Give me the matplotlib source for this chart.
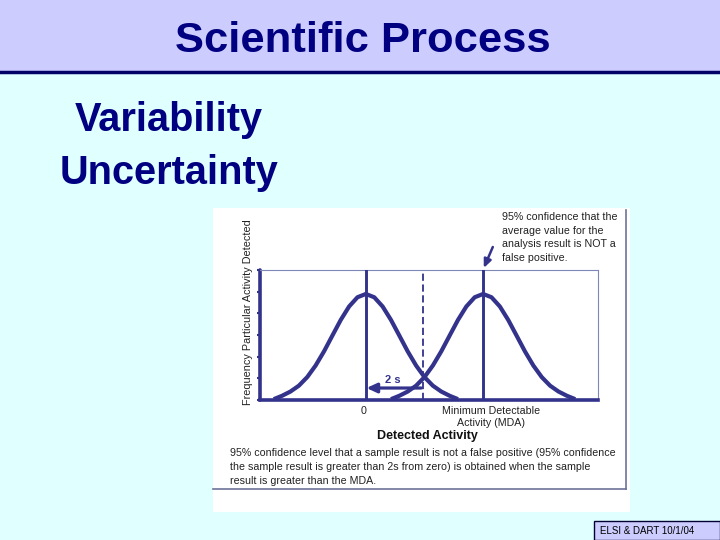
import matplotlib
matplotlib.use("Agg")
import matplotlib.pyplot as plt
from matplotlib.patches import Rectangle
from matplotlib.lines import Line2D

plt.rcParams['font.family'] = ['Liberation Sans', 'DejaVu Sans']

# ---- data (x in units of s, y relative to peak) ----
profile_offsets = [-2.75, -2.5, -2.25, -2.0, -1.75, -1.5, -1.25, -1.0, -0.75, -0.5, -0.25,
                   0.0, 0.25, 0.5, 0.75, 1.0, 1.25, 1.5, 1.75, 2.0, 2.25, 2.5, 2.75]
profile_heights = [0.008, 0.040, 0.080, 0.135, 0.216, 0.325, 0.458, 0.607, 0.755, 0.882, 0.969,
                   1.000, 0.969, 0.882, 0.755, 0.607, 0.458, 0.325, 0.216, 0.135, 0.080, 0.040, 0.008]
curve_centers = [0.0, 3.5]          # zero and MDA
dashed_x = 1.7                      # decision level
arrow_y = 0.113
x_limits = [-3.16, 6.93]
y_limits = [0.0, 1.226]
tick_labels = ["0", "Minimum Detectable\nActivity (MDA)"]
tick_label_shift_px = [-2, 8]

W, H = 720, 540
def fx(x): return x / W
def fy(y): return 1 - y / H

NAVY = '#000080'
LINE = '#33338c'

fig = plt.figure(figsize=(7.2, 5.4), dpi=100)
fig.patch.set_facecolor('#e0ffff')

# title bar
fig.patches.append(Rectangle((0, fy(71)), 1, 71 / H, transform=fig.transFigure,
                             facecolor='#ccccff', edgecolor='none', zorder=-2))
fig.add_artist(Line2D([0, 1], [fy(71.5), fy(71.5)], transform=fig.transFigure,
                      color='#000066', lw=2.5))
fig.text(fx(363), fy(52), "Scientific Process", ha='center', va='baseline',
         fontsize=31.3, fontweight='bold', color=NAVY)

fig.text(fx(169), fy(131), "Variability", ha='center', va='baseline',
         fontsize=28.6, fontweight='bold', color=NAVY)
fig.text(fx(169), fy(184), "Uncertainty", ha='center', va='baseline',
         fontsize=28.6, fontweight='bold', color=NAVY)

# white picture panel
fig.patches.append(Rectangle((fx(213), fy(512)), (630 - 213) / W, (512 - 208) / H,
                             transform=fig.transFigure, facecolor='white',
                             edgecolor='none', zorder=-2))
fig.add_artist(Line2D([fx(626), fx(626)], [fy(210), fy(489)], transform=fig.transFigure,
                      color='#6c7396', lw=1.2, zorder=-1))
fig.add_artist(Line2D([fx(213), fx(626)], [fy(489), fy(489)], transform=fig.transFigure,
                      color='#6c7396', lw=1.2, zorder=-1))

# footer box
fig.patches.append(Rectangle((fx(594), fy(540)), (720 - 594) / W, (540 - 521) / H,
                             transform=fig.transFigure, facecolor='#ccccff',
                             edgecolor='#000033', lw=1.0, zorder=-1))
fig.text(fx(600), fy(530.5), "ELSI & DART 10/1/04", ha='left', va='center',
         fontsize=7, color='black')

# chart axes
ax = fig.add_axes([fx(260), fy(400), 338 / W, 130 / H])
ax.set_facecolor('white')
ax.set_xlim(x_limits)
ax.set_ylim(y_limits)
for c in curve_centers:
    ax.plot([c + o for o in profile_offsets], profile_heights, color=LINE, lw=3.0,
            solid_capstyle='butt', zorder=3)
    ax.plot([c, c], y_limits, color=LINE, lw=2.1, zorder=3)
ax.plot([dashed_x, dashed_x], y_limits, color=LINE, lw=1.3, ls=(0, (4, 2)), zorder=3)

ax.annotate("", xy=(curve_centers[0] + 0.02, arrow_y), xytext=(dashed_x - 0.05, arrow_y),
            arrowprops=dict(arrowstyle='-|>,head_length=0.6,head_width=0.28',
                            color=LINE, lw=2.3, shrinkA=0, shrinkB=0), zorder=4)
ax.text(0.8, 0.19, "2 s", ha='center', va='center', fontsize=8, fontweight='bold',
        color=LINE)

ax.annotate("", xy=(curve_centers[1] + 0.02, 1.245), xytext=(3.79, 1.443),
            arrowprops=dict(arrowstyle='-|>,head_length=0.5,head_width=0.22',
                            color=LINE, lw=1.8, shrinkA=0, shrinkB=0),
            annotation_clip=False, zorder=4)

for side in ['top', 'right']:
    ax.spines[side].set_color('#7f86b8')
    ax.spines[side].set_linewidth(0.8)
for side in ['left', 'bottom']:
    ax.spines[side].set_color(LINE)
    ax.spines[side].set_linewidth(2.6)
ax.spines['left'].set_capstyle('round')

ax.set_yticks([y_limits[1] * k / 6 for k in range(7)])
ax.set_yticklabels([])
ax.tick_params(axis='y', direction='out', length=2.5, width=1.5, color=LINE)
ax.set_xticks(curve_centers)
ax.set_xticklabels([])
ax.tick_params(axis='x', length=0)
for c, lab, sh in zip(curve_centers, tick_labels, tick_label_shift_px):
    ax.annotate(lab, xy=(c, 0), xycoords=('data', 'axes fraction'),
                xytext=(sh * 0.72, -4), textcoords='offset points',
                ha='center', va='top', fontsize=7.7, color='#222222',
                linespacing=1.3, annotation_clip=False)

fig.text(fx(248), fy(312), "Frequency Particular Activity Detected", rotation=90,
         ha='center', va='center', fontsize=7.8, color='#222222')
fig.text(fx(427), fy(436), "Detected Activity", ha='center', va='center',
         fontsize=9, fontweight='bold', color='#111111')

fig.text(fx(502), fy(212), "95% confidence that the\naverage value for the\n"
         "analysis result is NOT a\nfalse positive.", ha='left', va='top',
         fontsize=7.7, color='#222222', linespacing=1.45)

fig.text(fx(230), fy(447.5), "95% confidence level that a sample result is not a false positive "
         "(95% confidence\nthe sample result is greater than 2s from zero) is obtained when "
         "the sample\nresult is greater than the MDA.", ha='left', va='top',
         fontsize=7.7, color='#222222', linespacing=1.55)

fig.savefig("out.png", dpi=100, facecolor=fig.get_facecolor())
